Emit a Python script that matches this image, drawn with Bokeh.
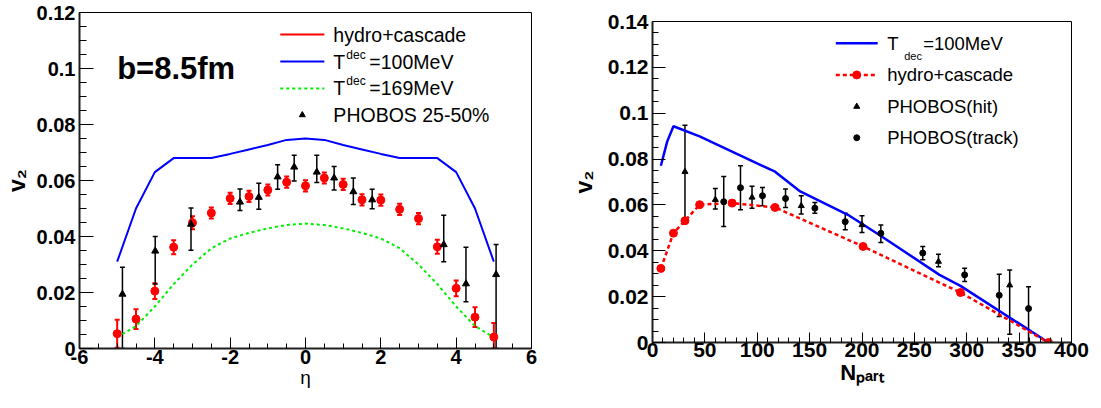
from bokeh.plotting import figure
from bokeh.layouts import row
from bokeh.models import (Range1d, SingleIntervalTicker, CustomJSTickFormatter,
                          Whisker, TeeHead, ColumnDataSource)
from bokeh.core.properties import value
from bokeh.embed import file_html
from bokeh.resources import INLINE

# ---------------- left panel data (v2 vs eta, b=8.5fm) ----------------
eta_t100 = [-5.0, -4.5, -4.0, -3.5, -2.5, -2.0, -1.5, -1.0, -0.5, 0.0,
            0.5, 1.0, 1.5, 2.0, 2.5, 3.5, 4.0, 4.5, 5.0]
v2_t100 = [0.031, 0.050, 0.063, 0.068, 0.068, 0.0695, 0.0711, 0.0727, 0.0745, 0.075,
           0.0745, 0.0727, 0.0711, 0.0695, 0.068, 0.068, 0.063, 0.050, 0.031]

eta_t169 = [-5.0, -4.5, -4.0, -3.5, -3.0, -2.5, -2.0, -1.5, -1.0, -0.5, 0.0,
            0.5, 1.0, 1.5, 2.0, 2.5, 3.0, 3.5, 4.0, 4.5, 5.0]
v2_t169 = [0.004, 0.008, 0.015, 0.023, 0.030, 0.0358, 0.0393, 0.0413, 0.0429, 0.0441, 0.0446,
           0.0441, 0.0429, 0.0413, 0.0393, 0.0358, 0.030, 0.023, 0.015, 0.008, 0.004]

eta_hc = [-5.0, -4.5, -4.0, -3.5, -3.0, -2.5, -2.0, -1.5, -1.0, -0.5, 0.0,
          0.5, 1.0, 1.5, 2.0, 2.5, 3.0, 3.5, 4.0, 4.5, 5.0]
v2_hc = [0.0053, 0.0105, 0.0205, 0.0362, 0.0449, 0.0484, 0.0536, 0.0543, 0.0566, 0.0594, 0.0581,
         0.0609, 0.0586, 0.0531, 0.0530, 0.0497, 0.0464, 0.0363, 0.0215, 0.0112, 0.0041]
err_hc = [0.005, 0.0035, 0.0028, 0.0025, 0.0023, 0.002, 0.002, 0.002, 0.002, 0.002, 0.002,
          0.002, 0.002, 0.002, 0.002, 0.002, 0.002, 0.0025, 0.0028, 0.0035, 0.005]

eta_phobos = [-4.86, -3.99, -3.04, -1.74, -1.24, -0.74, -0.30, 0.30, 0.76, 1.27, 1.77, 3.67, 4.26, 5.06]
v2_phobos = [0.0194, 0.0348, 0.0444, 0.0523, 0.0540, 0.0613, 0.0648, 0.0630, 0.0609, 0.0560,
             0.0531, 0.0371, 0.0231, 0.0264]
v2_phobos_hi = [0.029, 0.040, 0.0502, 0.057, 0.059, 0.0656, 0.069, 0.069, 0.065, 0.0609,
                0.0569, 0.0476, 0.0362, 0.0371]
v2_phobos_lo = [0.0, 0.023, 0.0351, 0.0493, 0.0497, 0.0569, 0.0598, 0.0593, 0.0566, 0.0514,
                0.0499, 0.031, 0.0167, 0.0]

# ---------------- right panel data (v2 vs Npart) ----------------
npart_t100 = [8, 14, 20, 45, 117, 141, 188, 217, 274, 294, 378]
v2n_t100 = [0.0771, 0.0876, 0.0943, 0.0899, 0.0745, 0.0659, 0.0553, 0.0468, 0.0295, 0.0247, 0.0]

npart_hc = [8, 20, 31, 45, 76, 117, 201, 294, 378]
v2n_hc = [0.0323, 0.0477, 0.0531, 0.0601, 0.0608, 0.0589, 0.0419, 0.0218, 0.0]

npart_hit = [31, 60, 95, 142, 200, 273, 341]
v2n_hit = [0.0745, 0.0623, 0.0633, 0.0596, 0.0513, 0.0353, 0.025]
v2n_hit_hi = [0.0948, 0.0672, 0.0681, 0.064, 0.0553, 0.0385, 0.0316]
v2n_hit_lo = [0.0541, 0.0582, 0.0586, 0.056, 0.048, 0.033, 0.0036]

npart_trk = [68, 84, 105, 127, 155, 184, 218, 258, 298, 331, 359]
v2n_trk = [0.0614, 0.0675, 0.064, 0.0628, 0.0586, 0.0527, 0.0476, 0.039, 0.0295, 0.0206, 0.0148]
v2n_trk_hi = [0.0724, 0.0771, 0.0676, 0.0669, 0.0611, 0.0564, 0.0512, 0.0419, 0.0324, 0.0298, 0.0243]
v2n_trk_lo = [0.0506, 0.0579, 0.0596, 0.0589, 0.0564, 0.0492, 0.0436, 0.0361, 0.0266, 0.0113, 0.0]

FONT = "Liberation Sans"
RED, BLUE, GREEN = "#ff0000", "#0000ff", "#00ee00"

fmt_code = """
if (Math.abs(tick) < 1e-9) { return "0"; }
var s = tick.toFixed(3);
s = s.replace(/0+$/, '');
s = s.replace(/\\.$/, '');
return s;
"""


def style(p, xint, xminor, yint, yminor, tick_size, xtick_len, ytick_len):
    p.xgrid.visible = False
    p.ygrid.visible = False
    p.outline_line_color = "black"
    p.outline_line_width = 1
    p.background_fill_color = "white"
    p.border_fill_color = "white"
    p.xaxis.ticker = SingleIntervalTicker(interval=xint, num_minor_ticks=xminor)
    p.yaxis.ticker = SingleIntervalTicker(interval=yint, num_minor_ticks=yminor)
    for ax, tl in ((p.xaxis[0], xtick_len), (p.yaxis[0], ytick_len)):
        ax.formatter = CustomJSTickFormatter(code=fmt_code)
        ax.major_tick_in = tl
        ax.major_tick_out = 0
        ax.minor_tick_in = tl // 2
        ax.minor_tick_out = 0
        ax.axis_line_width = 2
        ax.axis_line_color = "#202020"
        ax.major_tick_line_color = "black"
        ax.minor_tick_line_color = "black"
        ax.major_label_text_font = FONT
        ax.major_label_text_font_style = "bold"
        ax.major_label_text_font_size = tick_size
        ax.major_label_text_color = "black"
        ax.axis_label_text_font = FONT
        ax.axis_label_text_color = "black"


def whisk(p, base, up, lo, color, width, head):
    src = ColumnDataSource(dict(base=base, upper=up, lower=lo))
    w = Whisker(source=src, base="base", upper="upper", lower="lower", dimension="height",
                line_color=color, line_width=width,
                upper_head=TeeHead(size=head, line_color=color, line_width=width),
                lower_head=TeeHead(size=head, line_color=color, line_width=width))
    p.add_layout(w)


def txt(p, x, y, s, size, style="normal", xoff=0, yoff=0, baseline="middle"):
    p.text(x=[x], y=[y], text=[s], text_font=value(FONT), text_font_size=size,
           text_font_style=style, text_baseline=baseline, text_align="left",
           text_color="black", x_offset=xoff, y_offset=yoff)


# ======================= LEFT =======================
p1 = figure(frame_width=452, frame_height=336, x_range=Range1d(-6, 6), y_range=Range1d(0, 0.12),
            output_backend="svg", toolbar_location=None, title_location=None, frame_align=False,
            min_border_left=74, min_border_right=34, min_border_top=12, min_border_bottom=41)
style(p1, 2, 4, 0.02, 4, "20px", 11, 14)
p1.yaxis.axis_label = "v₂"
p1.yaxis.axis_label_text_font_style = "bold"
p1.yaxis.axis_label_text_font_size = "23px"
p1.yaxis.major_label_standoff = 4
p1.yaxis.axis_label_standoff = 4
p1.xaxis.axis_label = "η"
p1.xaxis.axis_label_text_font_style = "normal"
p1.xaxis.axis_label_text_font_size = "19px"
p1.xaxis.major_label_standoff = 1
p1.xaxis.axis_label_standoff = 0

p1.line(eta_t100, v2_t100, line_color=BLUE, line_width=2)
p1.line(eta_t169, v2_t169, line_color=GREEN, line_width=2, line_dash="3 3")
whisk(p1, eta_hc, [v + e for v, e in zip(v2_hc, err_hc)],
      [max(v - e, 0) for v, e in zip(v2_hc, err_hc)], RED, 2, 5)
p1.scatter(eta_hc, v2_hc, marker="circle", size=8, fill_color=RED, line_color=RED)
whisk(p1, eta_phobos, v2_phobos_hi, v2_phobos_lo, "black", 1.5, 5)
p1.scatter(eta_phobos, v2_phobos, marker="triangle", size=7, fill_color="black", line_color="black")

# text and legend (left)
txt(p1, -5.0, 0.1, "b=8.5fm", "31px", "bold", baseline="alphabetic")
L_x0, L_x1, L_tx = -0.67, 0.50, 0.74
L_rows = [0.1121, 0.1025, 0.0929, 0.0834]
LS = "19.5px"
p1.line([L_x0, L_x1], [L_rows[0]] * 2, line_color=RED, line_width=2)
txt(p1, L_tx, L_rows[0], "hydro+cascade", LS)
p1.line([L_x0, L_x1], [L_rows[1]] * 2, line_color=BLUE, line_width=2)
txt(p1, L_tx, L_rows[1], "T", LS)
txt(p1, L_tx, L_rows[1], "dec", "12px", xoff=13, yoff=-7)
txt(p1, L_tx, L_rows[1], "=100MeV", LS, xoff=36)
p1.line([L_x0, L_x1], [L_rows[2]] * 2, line_color=GREEN, line_width=2, line_dash="3 3")
txt(p1, L_tx, L_rows[2], "T", LS)
txt(p1, L_tx, L_rows[2], "dec", "12px", xoff=13, yoff=-7)
txt(p1, L_tx, L_rows[2], "=169MeV", LS, xoff=36)
p1.scatter([(L_x0 + L_x1) / 2], [L_rows[3]], marker="triangle", size=6, color="black")
txt(p1, L_tx, L_rows[3], "PHOBOS 25-50%", LS)

# ======================= RIGHT =======================
p2 = figure(frame_width=419, frame_height=321, x_range=Range1d(0, 400), y_range=Range1d(0, 0.14),
            output_backend="svg", toolbar_location=None, title_location=None, frame_align=False,
            min_border_left=87, min_border_right=19, min_border_top=21, min_border_bottom=50)
style(p2, 50, 5, 0.02, 4, "21px", 10, 13)
p2.yaxis.axis_label = "v₂"
p2.yaxis.axis_label_text_font_style = "bold"
p2.yaxis.axis_label_text_font_size = "23px"
p2.yaxis.major_label_standoff = 4
p2.yaxis.axis_label_standoff = 8
p2.xaxis.axis_label = "Nₚₐᵣₜ"
p2.xaxis.axis_label_text_font_style = "bold"
p2.xaxis.axis_label_text_font_size = "22px"
p2.xaxis.major_label_standoff = 0
p2.xaxis.axis_label_standoff = 0

p2.line(npart_t100, v2n_t100, line_color=BLUE, line_width=2.5)
p2.line(npart_hc, v2n_hc, line_color=RED, line_width=2.5, line_dash="4 3")
p2.scatter(npart_hc, v2n_hc, marker="circle", size=8, fill_color=RED, line_color=RED)
whisk(p2, npart_hit, v2n_hit_hi, v2n_hit_lo, "black", 1.5, 5)
p2.scatter(npart_hit, v2n_hit, marker="triangle", size=6, fill_color="black", line_color="black")
whisk(p2, npart_trk, v2n_trk_hi, v2n_trk_lo, "black", 1.5, 5)
p2.scatter(npart_trk, v2n_trk, marker="circle", size=6, fill_color="black", line_color="black")

R_x0, R_x1, R_tx = 175, 215, 224
R_rows = [0.1305, 0.1167, 0.1029, 0.0893]
RS = "18.5px"
p2.line([R_x0, R_x1], [R_rows[0]] * 2, line_color=BLUE, line_width=2.5)
txt(p2, R_tx, R_rows[0], "T", RS)
txt(p2, R_tx, R_rows[0], "dec", "11px", xoff=17, yoff=13)
txt(p2, R_tx, R_rows[0], "=100MeV", RS, xoff=36)
p2.line([R_x0, R_x1], [R_rows[1]] * 2, line_color=RED, line_width=2.5, line_dash="4 3")
p2.scatter([(R_x0 + R_x1) / 2], [R_rows[1]], marker="circle", size=8, color=RED)
txt(p2, R_tx, R_rows[1], "hydro+cascade", RS)
p2.scatter([(R_x0 + R_x1) / 2], [R_rows[2]], marker="triangle", size=6, color="black")
txt(p2, R_tx, R_rows[2], "PHOBOS(hit)", RS)
p2.scatter([(R_x0 + R_x1) / 2], [R_rows[3]], marker="circle", size=6, color="black")
txt(p2, R_tx, R_rows[3], "PHOBOS(track)", RS)

layout = row(p1, p2, spacing=0)
open("out.html", "w").write(file_html(layout, INLINE))
